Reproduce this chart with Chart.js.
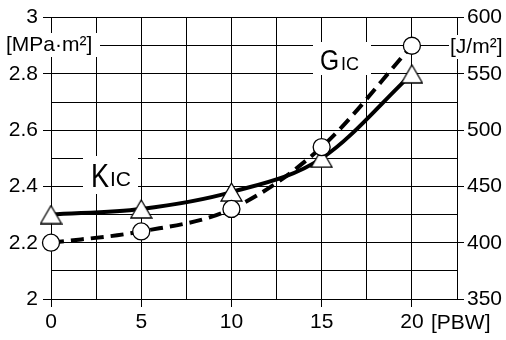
<!DOCTYPE html>
<html>
<head>
<meta charset="utf-8">
<script src="https://cdn.jsdelivr.net/npm/chart.js@4/dist/chart.umd.min.js"></script>
<style>
  html, body { margin: 0; padding: 0; background: #fff; }
  #wrap { width: 506px; height: 340px; }
</style>
</head>
<body>
<div id="wrap"><canvas id="myChart"></canvas></div>
<script>
// datos
const pbw = [0, 5, 10, 15, 20];
const kic = [2.30, 2.32, 2.38, 2.50, 2.80];   // MPa·m², eje izquierdo
const gic = [400, 410, 430, 485, 575];        // J/m², eje derecho

const fuente = "'Liberation Sans', Arial, sans-serif";

// triangulo blanco centrado por su caja (como en el original)
function triangulo() {
    const c = document.createElement('canvas');
    c.width = 23; c.height = 20;
    const g = c.getContext('2d');
    g.beginPath();
    g.moveTo(11.5, 1);
    g.lineTo(22, 19);
    g.lineTo(1, 19);
    g.closePath();
    g.fillStyle = '#fff';
    g.fill();
    g.lineWidth = 1.3;
    g.strokeStyle = '#000';
    g.stroke();
    return c;
}

// letra grande un poco estrecha, como en la figura
function letra(c, txt, x, y, size) {
    c.save();
    c.translate(x, y);
    c.scale(0.82, 1);
    c.font = size + 'px ' + fuente;
    c.fillText(txt, 0, 0);
    c.restore();
}

const etiquetas = {
    id: 'etiquetas',
    beforeDatasetsDraw(chart) {
        const c = chart.ctx;
        c.save();
        c.fillStyle = '#fff';
        c.fillRect(4, 33, 96, 24);
        c.fillRect(449, 35, 56, 24);
        c.fillRect(83, 156, 55, 38);
        c.fillRect(313, 42, 58, 33);
        c.fillStyle = '#000';
        c.textBaseline = 'middle';
        c.font = '21px ' + fuente;
        c.fillText('[MPa·m²]', 6, 45);
        c.fillText('[J/m²]', 450, 47);
        c.textBaseline = 'alphabetic';
        letra(c, 'K', 91, 187, 33);
        c.font = '21px ' + fuente;
        c.fillText('IC', 110, 186);
        letra(c, 'G', 320, 70, 30);
        c.font = '18px ' + fuente;
        c.fillText('IC', 341, 70);
        c.restore();
    },
    afterDraw(chart) {
        const c = chart.ctx;
        c.save();
        c.fillStyle = '#000';
        c.textBaseline = 'top';
        c.font = '21px ' + fuente;
        c.fillText('[PBW]', 431, 313);
        c.restore();
    }
};

const negro = '#000';
const nada = 'rgba(0,0,0,0)';

const ctx = document.getElementById('myChart').getContext('2d');
const myChart = new Chart(ctx, {
    type: 'line',
    data: {
        datasets: [{
            label: 'GIC',
            data: pbw.map((x, i) => ({ x: x, y: gic[i] })),
            yAxisID: 'y2',
            clip: false,
            borderColor: negro,
            borderWidth: 4,
            borderDash: [13, 7],
            cubicInterpolationMode: 'monotone',
            pointStyle: 'circle',
            pointRadius: 8.5,
            pointBackgroundColor: '#fff',
            pointBorderColor: negro,
            pointBorderWidth: 1.3
        }, {
            label: 'KIC',
            data: pbw.map((x, i) => ({ x: x, y: kic[i] })),
            yAxisID: 'y',
            clip: false,
            borderColor: negro,
            borderWidth: 4,
            cubicInterpolationMode: 'monotone',
            pointStyle: triangulo(),
            pointRadius: 10
        }]
    },
    options: {
        responsive: true,
        maintainAspectRatio: false,
        animation: false,
        layout: { padding: { top: 16, left: 0, right: 0, bottom: 0 } },
        plugins: {
            legend: { display: false },
            tooltip: { enabled: false }
        },
        scales: {
            x: {
                type: 'linear',
                min: 0,
                max: 22.5,
                afterFit: (s) => { s.height = 41; },
                border: { color: negro, width: 1 },
                grid: {
                    color: negro,
                    lineWidth: 1,
                    tickLength: 8,
                    tickColor: (c) => (c.tick && c.tick.value % 5 === 0) ? negro : nada
                },
                ticks: {
                    stepSize: 2.5,
                    padding: 3,
                    maxRotation: 0,
                    autoSkip: false,
                    color: negro,
                    font: { family: fuente, size: 21 },
                    callback: (v) => (v % 5 === 0 && v <= 20) ? String(v) : ''
                }
            },
            y: {
                position: 'left',
                min: 2,
                max: 3,
                afterFit: (s) => { s.width = 51; },
                border: { color: negro, width: 1 },
                grid: {
                    color: negro,
                    lineWidth: 1,
                    tickLength: 8,
                    tickColor: (c) => (c.tick && Math.round(c.tick.value * 10) % 2 === 0) ? negro : nada
                },
                ticks: {
                    stepSize: 0.1,
                    padding: 5,
                    autoSkip: false,
                    color: negro,
                    font: { family: fuente, size: 21 },
                    callback: (v) => {
                        const t = Math.round(v * 10);
                        return t % 2 === 0 ? String(t / 10) : '';
                    }
                }
            },
            y2: {
                position: 'right',
                min: 350,
                max: 600,
                afterFit: (s) => { s.width = 49; },
                border: { color: negro, width: 1 },
                grid: {
                    drawOnChartArea: false,
                    tickLength: 7,
                    tickColor: (c) => (c.tick && c.tick.value % 50 === 0) ? negro : nada
                },
                ticks: {
                    stepSize: 25,
                    padding: 3,
                    autoSkip: false,
                    color: negro,
                    font: { family: fuente, size: 21 },
                    callback: (v) => (v % 50 === 0 && v !== 575) ? String(v) : ''
                }
            }
        }
    },
    plugins: [etiquetas]
});
</script>
</body>
</html>
